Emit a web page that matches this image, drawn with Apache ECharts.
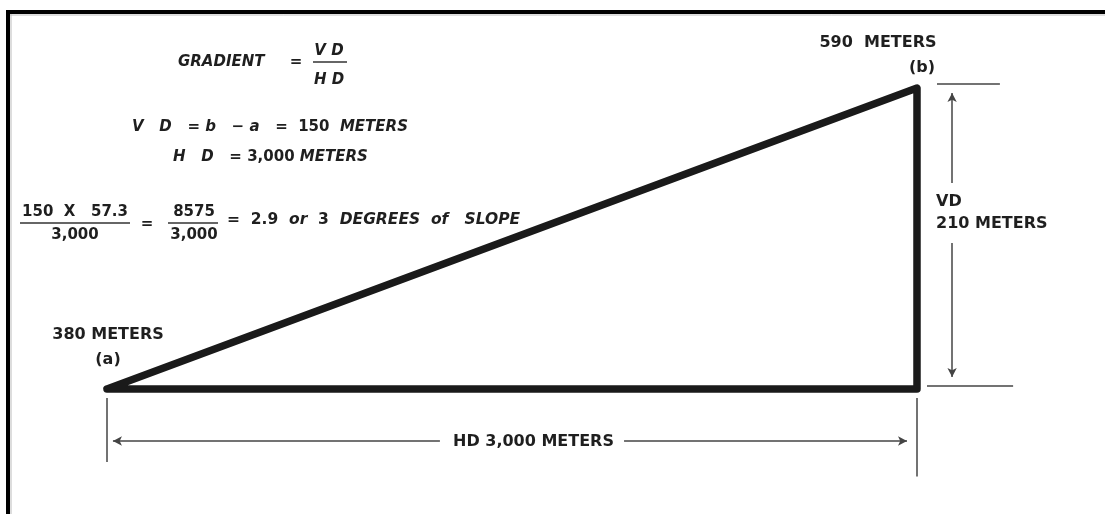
<!DOCTYPE html>
<html>
<head>
<meta charset="utf-8">
<script src="https://cdn.jsdelivr.net/npm/echarts@6/dist/echarts.min.js"></script>
<style>
  html, body { margin: 0; padding: 0; background: #fff; }
  #chart { width: 1105px; height: 514px; }
</style>
</head>
<body>
<div id="chart"></div>
<script>
  // point a -> point b: horizontal distance (m) and elevation (m)
  const hdMeters = [0, 3000];
  const elevation = [380, 590];
  const pointNames = ['(a)', '(b)'];
  const elevLabels = ['380 METERS', '590  METERS'];
  const hdLabel = 'HD 3,000 METERS';
  const vdLabel = ['VD', '210 METERS'];

  const chart = echarts.init(document.getElementById('chart'));

  // triangle a -> b -> foot of b -> a
  const triangle = [
    [hdMeters[0], elevation[0]],
    [hdMeters[1], elevation[1]],
    [hdMeters[1], elevation[0]],
    [hdMeters[0], elevation[0]]
  ];

  const x0 = hdMeters[0], x1 = hdMeters[1];
  const yA = elevation[0], yB = elevation[1];
  const hdY = yA - 36.3;      // HD dimension line
  const vdX = x1 + 130;       // VD dimension line

  function seg(p1, p2, s1, s2) {
    return [
      { coord: p1, symbol: s1 || 'none' },
      { coord: p2, symbol: s2 || 'none' }
    ];
  }

  const dimLines = [
    // extension lines below a and b
    seg([x0, yA - 6.3], [x0, yA - 51]),
    seg([x1, yA - 6.3], [x1, yA - 61]),
    // HD arrow, split for the label
    seg([x0 + 22, hdY], [x0 + 1233, hdY], 'arrow', 'none'),
    seg([x0 + 1915, hdY], [x1 - 37, hdY], 'none', 'arrow'),
    // ticks right of b and foot
    seg([x1 + 74, yB + 2.8], [x1 + 307, yB + 2.8]),
    seg([x1 + 37, yA + 2.1], [x1 + 356, yA + 2.1]),
    // VD arrow, split for the label
    seg([vdX, yB - 3.5], [vdX, yB - 66.3], 'arrow', 'none'),
    seg([vdX, yB - 108.1], [vdX, yA + 8.4], 'none', 'arrow')
  ];

  const FONT = '"DejaVu Sans", sans-serif';
  const INK = '#1f1f1f';

  function txt(x, y, text, opt) {
    opt = opt || {};
    return {
      type: 'text', x: x, y: y, silent: true,
      style: {
        text: text,
        fontFamily: FONT,
        fontWeight: 'bold',
        fontStyle: opt.italic ? 'italic' : 'normal',
        fontSize: opt.size || 15,
        fill: INK,
        textAlign: opt.align || 'center',
        textVerticalAlign: 'middle',
        rich: {
          i: { fontFamily: FONT, fontWeight: 'bold', fontStyle: 'italic', fontSize: opt.size || 15, fill: INK },
          n: { fontFamily: FONT, fontWeight: 'bold', fontStyle: 'normal', fontSize: opt.size || 15, fill: INK }
        }
      }
    };
  }

  function bar(xa, xb, y) {
    return { type: 'line', silent: true, shape: { x1: xa, y1: y, x2: xb, y2: y },
      style: { stroke: '#333', lineWidth: 1.5 } };
  }

  const graphics = [
    // frame
    { type: 'line', silent: true, shape: { x1: 6, y1: 12, x2: 1105, y2: 12 }, style: { stroke: '#000', lineWidth: 4 } },
    { type: 'line', silent: true, shape: { x1: 8, y1: 10, x2: 8, y2: 514 }, style: { stroke: '#000', lineWidth: 4 } },
    { type: 'line', silent: true, shape: { x1: 10, y1: 15, x2: 1105, y2: 15 }, style: { stroke: '#bbb', lineWidth: 1 } },
    { type: 'line', silent: true, shape: { x1: 11, y1: 14, x2: 11, y2: 514 }, style: { stroke: '#bbb', lineWidth: 1 } },

    // formula block
    txt(178, 62, 'GRADIENT', { italic: true, align: 'left' }),
    txt(296, 62, '='),
    txt(329, 51, 'V D', { italic: true }),
    bar(313, 347, 62),
    txt(329, 80, 'H D', { italic: true }),

    txt(132, 127, '{i|V   D   = b   − a   =}  150  {i|METERS}', { align: 'left' }),
    txt(173, 157, '{i|H   D   =} 3,000 {i|METERS}', { align: 'left' }),

    txt(75, 212, '150  X   57.3'),
    bar(20, 130, 223),
    txt(75, 235, '3,000'),
    txt(147, 224, '='),
    txt(194, 212, '8575'),
    bar(168, 218, 223),
    txt(194, 235, '3,000'),
    txt(227, 220, '=  2.9  {i|or}  3  {i|DEGREES  of   SLOPE}', { align: 'left', size: 15.5 }),

    // point labels
    txt(878, 43, elevLabels[1], { size: 16 }),
    txt(922, 68, pointNames[1], { size: 16 }),
    txt(108, 335, elevLabels[0], { size: 16 }),
    txt(108, 360, pointNames[0], { size: 16 }),

    // dimension labels
    txt(936, 202, vdLabel[0], { size: 16, align: 'left' }),
    txt(936, 224, vdLabel[1], { size: 16, align: 'left' }),
    txt(453, 442, hdLabel, { size: 16, align: 'left' })
  ];

  const option = {
    backgroundColor: '#fff',
    animation: false,
    // full-canvas grid; ranges chosen so a sits at (107,389) and b at (917,88)
    grid: { left: 0, right: 0, top: 0, bottom: 0 },
    xAxis: { type: 'value', min: -396.3, max: 3696.3, show: false },
    yAxis: { type: 'value', min: 292.79, max: 651.4, show: false },
    series: [{
      type: 'line',
      data: triangle,
      clip: false,
      symbol: 'none',
      silent: true,
      lineStyle: { color: '#1a1a1a', width: 7.5, join: 'round', cap: 'round' },
      markLine: {
        silent: true,
        symbolSize: [7, 9],
        label: { show: false },
        lineStyle: { color: '#444', width: 1.5, type: 'solid' },
        data: dimLines
      }
    }],
    graphic: graphics
  };

  chart.setOption(option);
</script>
</body>
</html>
